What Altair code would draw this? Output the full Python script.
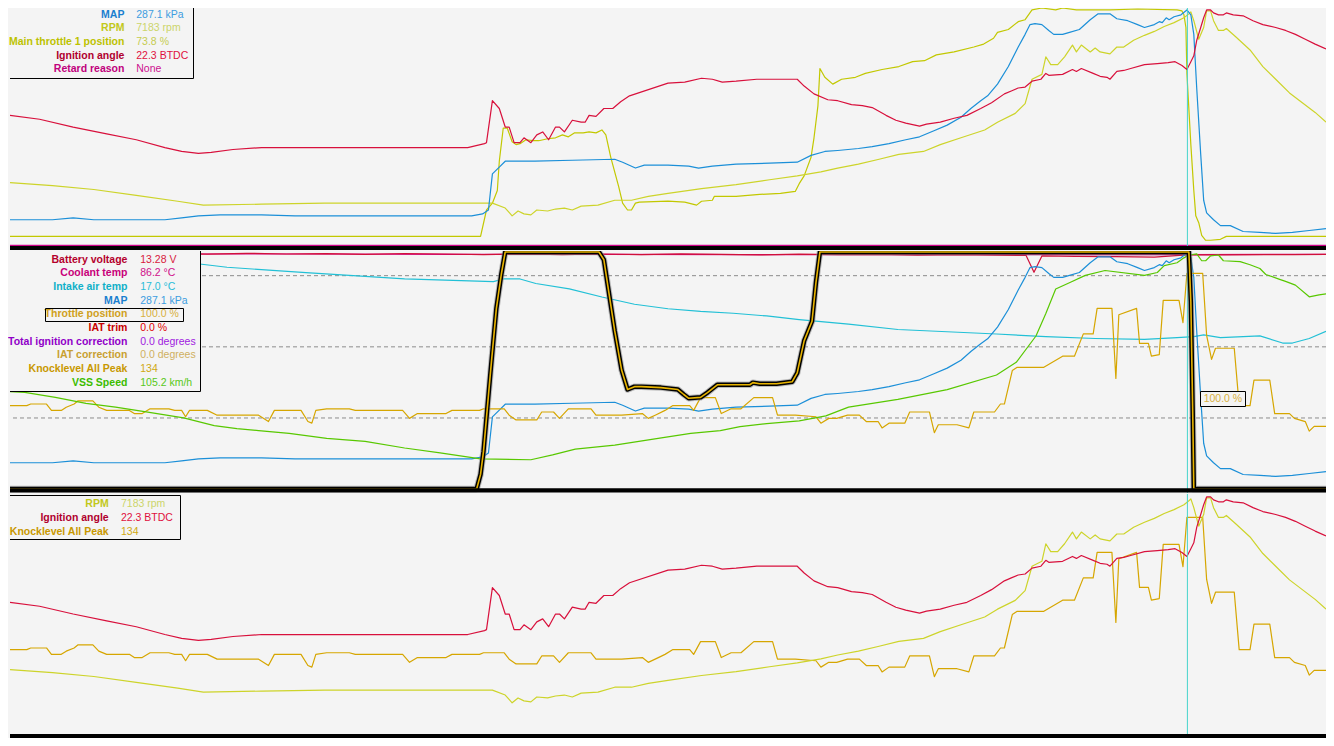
import sys
import altair as alt
import pandas as pd

# ---------------------------------------------------------------- data
# time in seconds, values in engineering units
rpm_t = [0, 0.86, 1.70, 2.56, 3.40, 3.92, 5.10, 6.38, 9.78, 10.04,
         10.18, 10.30, 10.42, 10.56, 10.68, 10.90, 11.06, 11.24, 11.40, 11.58,
         11.92, 12.26, 12.60, 12.94, 13.34, 14.02, 14.72, 15.40, 15.96, 16.44,
         16.78, 17.20, 17.62, 18.02, 18.52, 18.86, 19.28, 19.76, 20.02, 20.38,
         20.58, 20.72, 20.92, 21.00, 21.10, 21.24, 21.38, 21.54, 21.62, 21.72,
         21.90, 22.00, 22.10, 22.30, 22.44, 22.58, 22.78, 23.00, 23.20, 23.40,
         23.60, 23.80, 23.90, 23.94, 24.00, 24.10, 24.20, 24.26, 24.34, 24.40,
         24.50, 24.60, 24.66, 24.86, 25.14, 25.40, 25.66, 25.94, 26.20, 26.46, 26.68]
rpm = [2984, 2912, 2816, 2672, 2528, 2432, 2456, 2480, 2480, 2360,
       2168, 2288, 2216, 2192, 2312, 2288, 2336, 2360, 2312, 2408,
       2432, 2552, 2552, 2648, 2720, 2840, 2936, 3056, 3152, 3248,
       3344, 3440, 3560, 3680, 3752, 3920, 4088, 4280, 4472, 4688,
       4928, 5528, 5648, 6080, 5888, 5888, 6080, 6368, 6200, 6368,
       6200, 6296, 6200, 6152, 6320, 6320, 6488, 6608, 6704, 6824,
       6920, 7040, 7136, 7184, 6968, 6512, 6800, 7208, 7208, 6968,
       6728, 6728, 6776, 6560, 6248, 5840, 5528, 5192, 4952, 4712, 4472]

ign_t = [0, 0.60, 1.28, 1.96, 2.56, 3.14, 3.48, 3.82, 4.08, 4.52,
         5.10, 5.96, 7.66, 9.28, 9.62, 9.66, 9.78, 9.92, 10.04, 10.12,
         10.22, 10.34, 10.42, 10.56, 10.68, 10.80, 10.92, 11.06, 11.14, 11.24,
         11.40, 11.58, 11.66, 11.74, 11.88, 12.04, 12.22, 12.38, 12.56, 13.34,
         13.68, 14.02, 14.24, 14.44, 14.72, 15.14, 15.96, 16.10, 16.30, 16.58,
         16.78, 17.06, 17.28, 17.48, 17.76, 17.96, 18.16, 18.44, 18.58, 18.86,
         19.14, 19.40, 19.68, 19.90, 20.16, 20.30, 20.44, 20.58, 20.72, 20.90,
         21.00, 21.06, 21.34, 21.54, 21.62, 21.72, 21.96, 22.10, 22.24, 22.30,
         22.44, 22.58, 22.72, 23.00, 23.26, 23.48, 23.62, 23.76, 23.86, 23.94,
         24.00, 24.06, 24.14, 24.20, 24.26, 24.34, 24.40, 24.50, 24.60, 24.66,
         24.80, 25.00, 25.20, 25.40, 25.66, 25.86, 26.06, 26.26, 26.46, 26.68]
ign = [12.0, 11.2, 9.6, 8.2, 7.0, 5.4, 4.6, 4.2, 4.4, 5.0,
       5.4, 5.4, 5.4, 5.4, 6.2, 6.4, 15.0, 13.4, 9.6, 9.6,
       6.4, 6.4, 7.4, 6.4, 8.0, 8.6, 7.0, 9.6, 9.6, 8.6,
       11.0, 10.6, 10.6, 12.0, 11.8, 13.4, 13.4, 14.8, 16.0, 18.6,
       18.8, 19.6, 19.4, 18.8, 19.0, 19.4, 19.4, 18.0, 16.4, 15.2,
       15.0, 14.2, 14.0, 13.6, 12.0, 11.0, 10.4, 9.8, 10.2, 10.6,
       11.4, 12.0, 13.4, 14.6, 16.4, 17.0, 17.6, 17.8, 19.0, 19.4,
       20.6, 20.2, 20.4, 21.4, 21.0, 21.6, 20.6, 20.0, 19.8, 19.4,
       21.0, 21.2, 21.6, 22.4, 22.6, 22.8, 23.0, 22.2, 21.4, 23.0,
       24.2, 27.4, 30.0, 32.0, 33.6, 33.6, 33.0, 32.6, 32.6, 33.0,
       32.6, 32.4, 31.4, 30.6, 30.0, 29.4, 28.6, 27.6, 26.6, 25.6]

map_t = [0, 0.86, 1.28, 1.70, 3.14, 3.48, 3.82, 4.26, 5.10, 5.78,
         9.36, 9.58, 9.70, 9.78, 9.92, 10.04, 10.64, 11.40, 12.26, 12.42,
         12.68, 12.86, 13.34, 13.76, 13.96, 14.24, 14.72, 15.40, 15.96, 16.24,
         16.52, 16.78, 17.20, 17.48, 17.82, 18.16, 18.44, 18.72, 19.00, 19.28,
         19.48, 19.68, 19.82, 20.02, 20.24, 20.44, 20.58, 20.68, 20.78, 20.92,
         21.06, 21.16, 21.34, 21.48, 21.68, 21.90, 22.06, 22.30, 22.44, 22.66,
         22.86, 23.00, 23.20, 23.30, 23.36, 23.44, 23.50, 23.60, 23.74, 23.86,
         23.94, 24.00, 24.06, 24.14, 24.20, 24.26, 24.40, 24.54, 24.74, 25.00,
         25.34, 25.66, 26.00, 26.34, 26.68]
map_kpa = [33.6, 33.6, 36.0, 33.6, 33.6, 36.0, 38.4, 39.6, 39.6, 38.4,
           38.4, 40.8, 45.6, 90.0, 98.4, 105.6, 105.6, 106.8, 108.0, 104.4,
           97.2, 100.8, 100.8, 99.6, 97.2, 99.6, 102.0, 103.2, 104.4, 112.8,
           117.6, 118.8, 121.2, 123.6, 127.2, 132.0, 135.6, 142.8, 150.0, 159.6,
           170.4, 180.0, 186.0, 200.4, 222.0, 246.0, 261.6, 273.6, 274.8, 273.6,
           266.4, 261.6, 261.6, 264.0, 267.6, 279.6, 286.8, 286.8, 280.8, 278.4,
           273.6, 270.0, 273.6, 277.2, 276.0, 282.0, 279.6, 283.2, 285.6, 291.6,
           285.6, 261.6, 194.4, 114.0, 57.6, 42.0, 33.6, 26.4, 26.4, 19.2,
           18.0, 16.8, 18.0, 20.4, 22.8]

mt1_t = [0, 9.54, 9.66, 9.78, 9.88, 9.92, 10.00, 10.08, 10.18, 10.26,
         10.34, 10.46, 10.60, 10.72, 10.90, 11.06, 11.20, 11.32, 11.44, 11.62,
         11.74, 11.88, 12.00, 12.08, 12.18, 12.34, 12.42, 12.52, 12.60, 12.68,
         12.76, 13.34, 13.68, 13.92, 14.02, 14.24, 14.28, 14.72, 15.20, 15.62,
         15.92, 16.00, 16.10, 16.24, 16.30, 16.38, 16.42, 16.52, 16.68, 16.86,
         17.14, 17.34, 17.68, 18.02, 18.30, 18.54, 18.78, 19.14, 19.54, 19.74,
         19.94, 20.02, 20.24, 20.44, 20.58, 20.72, 20.92, 21.20, 21.34, 21.62,
         22.30, 22.86, 23.66, 23.76, 23.80, 23.84, 23.86, 23.94, 24.00, 24.04,
         24.10, 24.16, 24.24, 24.34, 24.54, 24.66, 26.68]
mt1 = [4.4, 4.4, 15.2, 18.0, 23.2, 35.2, 48.8, 48.8, 43.2, 42.0,
       42.4, 44.0, 43.6, 43.6, 44.4, 44.8, 46.0, 45.2, 46.8, 46.8,
       47.2, 46.8, 48.0, 46.0, 36.8, 24.8, 18.0, 15.2, 15.2, 18.0,
       18.4, 18.8, 18.4, 17.2, 18.8, 19.2, 20.8, 20.8, 21.6, 22.0,
       22.8, 26.0, 29.2, 36.8, 44.8, 58.0, 73.2, 69.6, 66.8, 68.8,
       69.6, 71.2, 72.8, 74.0, 76.0, 76.4, 78.8, 80.0, 82.0, 83.2,
       85.6, 88.0, 89.2, 92.4, 93.2, 97.2, 98.0, 97.2, 98.0, 97.2,
       97.2, 97.6, 97.2, 96.8, 95.2, 90.0, 71.2, 42.0, 23.2, 12.8,
       10.0, 4.8, 2.8, 2.8, 3.2, 4.4, 4.4]

retard_t = [0, 26.68]
retard = [0, 0]

batt_t = [0, 0.8, 1.6, 2.4, 3.2, 4.0, 4.8, 5.6, 6.4, 7.2,
          8.0, 8.8, 9.6, 10.4, 11.2, 12.0, 12.8, 13.6, 14.4, 15.2,
          16.0, 16.8, 17.6, 18.4, 19.2, 20.0, 20.6, 20.76, 20.92, 21.6,
          22.4, 23.2, 23.86, 24.6, 25.4, 26.0, 26.68]
batt = [13.36, 13.33, 13.37, 13.34, 13.36, 13.32, 13.37, 13.33, 13.35, 13.31,
        13.36, 13.33, 13.30, 13.34, 13.29, 13.33, 13.30, 13.34, 13.31, 13.28,
        13.32, 13.29, 13.31, 13.27, 13.30, 13.26, 13.25, 12.30, 13.22, 13.20,
        13.18, 13.15, 13.28, 13.28, 13.30, 13.29, 13.31]

clt_t = [0, 3.0, 6.0, 9.0, 12.0, 15.0, 18.0, 21.0, 23.86, 26.68]
clt = [86.5, 86.4, 86.4, 86.3, 86.3, 86.2, 86.2, 86.2, 86.2, 86.3]

iat_t = [0, 2.40, 4.40, 6.00, 8.00, 9.80, 10.00, 10.34, 10.66, 11.34,
         12.00, 12.66, 13.34, 14.00, 14.66, 15.34, 16.00, 17.00, 18.00, 20.00,
         21.00, 22.00, 23.00, 23.66, 24.00, 24.20, 24.54, 25.00, 25.34, 25.80,
         26.00, 26.34, 26.68]
iat = [26.3, 26.0, 24.7, 24.1, 23.4, 23.1, 23.4, 23.4, 22.9, 22.3,
       21.4, 20.6, 20.1, 19.8, 19.6, 19.3, 18.9, 18.4, 17.8, 17.3,
       17.0, 16.8, 16.7, 16.9, 17.0, 17.2, 16.9, 17.0, 17.1, 16.3,
       16.3, 16.8, 17.6]

tps_t = [0, 9.46, 9.54, 9.60, 9.74, 9.86, 9.96, 10.04, 11.94, 12.04,
         12.14, 12.26, 12.40, 12.52, 12.66, 12.80, 13.20, 13.54, 13.66, 13.76,
         14.00, 14.14, 14.34, 15.00, 15.06, 15.20, 15.54, 15.86, 15.96, 16.10,
         16.26, 16.34, 16.42, 23.90, 23.94, 23.98, 24.00, 26.68]
tps = [0, 0, 6.2, 16.0, 49.0, 76.1, 90.5, 100, 100, 96.7,
       83.1, 66.7, 50.2, 42.0, 43.2, 43.2, 42.8, 42.0, 39.9, 38.3,
       38.7, 40.7, 44.0, 44.0, 44.9, 44.4, 44.4, 45.3, 49.0, 62.5,
       70.8, 87.2, 100, 100, 79.0, 29.6, 0, 0]

knock_t = [0, 0.34, 0.42, 0.74, 0.84, 1.04, 1.14, 1.30, 1.38, 1.68,
           1.80, 1.96, 2.42, 2.52, 2.68, 2.84, 3.22, 3.34, 3.48, 3.56,
           3.64, 4.00, 4.20, 5.04, 5.24, 5.36, 5.90, 6.04, 6.12, 6.20,
           6.42, 6.88, 7.00, 7.96, 8.10, 8.26, 8.84, 8.96, 9.52, 9.60,
           10.02, 10.12, 10.26, 10.68, 10.78, 11.02, 11.14, 11.32, 11.78, 11.88,
           12.40, 12.82, 12.94, 13.08, 13.28, 13.44, 13.78, 13.86, 14.00, 14.30,
           14.42, 14.62, 14.82, 15.08, 15.46, 15.56, 15.92, 16.34, 16.44, 16.60,
           16.76, 16.98, 17.22, 17.36, 17.60, 17.68, 17.82, 18.14, 18.24, 18.64,
           18.74, 18.82, 19.20, 19.44, 19.54, 19.96, 20.08, 20.16, 20.32, 20.42,
           20.88, 20.96, 21.34, 21.58, 21.76, 21.96, 22.04, 22.34, 22.42, 22.48,
           22.84, 22.90, 23.08, 23.14, 23.30, 23.38, 23.70, 23.78, 23.86, 24.18,
           24.26, 24.36, 24.44, 24.82, 24.92, 25.14, 25.22, 25.54, 25.64, 25.94,
           26.04, 26.26, 26.34, 26.44, 26.68]
knock = [53, 53, 54, 54, 50, 50, 52, 54, 56, 56,
         52, 50, 50, 48, 48, 51, 51, 50, 50, 46,
         50, 50, 47, 47, 43, 50, 50, 43, 42, 50,
         51, 51, 50, 50, 45, 48, 48, 50, 50, 51,
         51, 47, 44, 44, 49, 49, 45, 51, 51, 47,
         47, 48, 45, 47, 50, 53, 53, 50, 58, 58,
         48, 51, 51, 58, 58, 47, 47, 46, 42, 45,
         45, 47, 47, 43, 43, 39, 42, 42, 49, 49,
         36, 41, 41, 39, 49, 49, 54, 54, 75, 77,
         77, 77, 84, 84, 98, 98, 114, 114, 70, 110,
         114, 92, 92, 84, 85, 119, 119, 105, 136, 136,
         97, 82, 89, 89, 53, 53, 69, 69, 48, 48,
         45, 43, 37, 40, 40]

vss_t = [0, 0.30, 0.92, 1.54, 2.14, 2.76, 3.52, 4.14, 4.60, 5.04,
         5.66, 6.42, 7.20, 8.00, 8.72, 9.54, 10.56, 11.00, 11.46, 12.26,
         13.14, 13.80, 14.40, 14.80, 15.34, 16.00, 16.54, 17.00, 18.00, 19.00,
         20.00, 20.40, 20.80, 21.00, 21.20, 21.50, 21.80, 22.20, 23.00, 23.26,
         23.40, 23.66, 23.80, 23.90, 24.06, 24.16, 24.24, 24.34, 24.50, 24.60,
         24.94, 25.14, 25.34, 25.46, 25.74, 25.86, 26.06, 26.34, 26.54, 26.68]
vss = [44.5, 44.1, 41.9, 39.2, 37.5, 35.3, 32.6, 29.1, 27.8, 26.9,
       25.6, 23.4, 22.0, 19.0, 16.8, 14.1, 13.7, 15.9, 18.5, 20.3,
       23.4, 25.6, 26.9, 28.7, 30.0, 31.3, 33.5, 37.5, 41.0, 45.4,
       52.0, 57.7, 69.6, 79.8, 90.8, 93.9, 97.0, 99.2, 97.0, 98.3,
       101.4, 102.7, 104.9, 106.2, 106.7, 103.6, 103.6, 105.8, 106.2, 103.6,
       103.2, 101.8, 100.1, 97.4, 95.2, 94.3, 92.6, 87.3, 88.2, 88.6]

tps_grid = [30, 60, 90]          # dashed reference levels (throttle %)
cursor_t = [23.87]
cursor_tip = ["100.0 %"]

# legend contents
p1_labels = ["MAP", "RPM", "Main throttle 1 position", "Ignition angle", "Retard reason"]
p1_values = ["287.1 kPa", "7183 rpm", "73.8 %", "22.3 BTDC", "None"]
p2_labels = ["Battery voltage", "Coolant temp", "Intake air temp", "MAP", "Throttle position",
             "IAT trim", "Total ignition correction", "IAT correction", "Knocklevel All Peak", "VSS Speed"]
p2_values = ["13.28 V", "86.2 °C", "17.0 °C", "287.1 kPa", "100.0 %",
             "0.0 %", "0.0 degrees", "0.0 degrees", "134", "105.2 km/h"]
p3_labels = ["RPM", "Ignition angle", "Knocklevel All Peak"]
p3_values = ["7183 rpm", "22.3 BTDC", "134"]

# ---------------------------------------------------------------- styles
BG = "#f4f4f4"
FONT = "Liberation Sans"
FS = 10.5
LINE = {"map": "#1b8fd8", "rpm": "#cdd42a", "mt1": "#c2c800", "ign": "#d8103c",
        "retard": "#cc0088", "batt": "#d0103a", "clt": "#d4007e", "iat": "#22c0d6",
        "tps": "#e8b400", "knock": "#d6a600", "vss": "#58c800"}
LAB = {"MAP": ("#1a7fcf", "#3d9de0"), "RPM": ("#c2c81a", "#ccd46a"),
       "Main throttle 1 position": ("#bcc200", "#c6cc50"), "Ignition angle": ("#b0002e", "#e01040"),
       "Retard reason": ("#c0007c", "#cc1090"), "Battery voltage": ("#b4002c", "#d8203c"),
       "Coolant temp": ("#c8007a", "#d0108a"), "Intake air temp": ("#10b0c8", "#28bcd8"),
       "Throttle position": ("#d0a020", "#d8b040"), "IAT trim": ("#c80000", "#e00000"),
       "Total ignition correction": ("#9000c8", "#a020e0"), "IAT correction": ("#c8a030", "#d0b060"),
       "Knocklevel All Peak": ("#c89800", "#d0a810"), "VSS Speed": ("#3cbc00", "#58c818")}

DOM = {"rpm": [1400, 7280], "map": [0, 294], "mt1": [0, 98], "ign": [-15, 34],
       "retard": [-0.07, 10], "batt": [0, 13.5], "clt": [0, 87.5], "iat": [0, 26.5],
       "tps": [-0.41, 100.41], "knock": [0, 150], "vss": [0, 108]}

# ---------------------------------------------------------------- layout
REF_W, REF_H = 1334.0, 746.0
W = 1316
TOTAL_H = 728
SXR = W / REF_W
SYR = TOTAL_H / REF_H
T_MAX = 26.68
P_TOP = [0, 248, 496]
P_BOT = [248, 496, 746]
DATA = [(0, 245), (248, 493), (497, 742)]
ROW = 14

xs = alt.Scale(domain=[0, T_MAX], nice=False, zero=False)
X = alt.X("t:Q", scale=xs, axis=None)
ONE = pd.DataFrame({"k": [0]})


def yr(p, yref):
    return (yref - P_TOP[p]) * SYR


def frame(t, v):
    n = min(len(t), len(v))
    if len(t) != len(v):
        print("length mismatch", len(t), len(v), file=sys.stderr)
    return pd.DataFrame({"t": list(t)[:n], "v": list(v)[:n]})


def yscale(p, key):
    d0, d1 = DATA[p]
    return alt.Scale(domain=DOM[key], range=[yr(p, d1), yr(p, d0)], nice=False, zero=False)


def series(p, t, v, key, width=1.2, color=None, **kw):
    return alt.Chart(frame(t, v)).mark_line(
        color=color or LINE[key], strokeWidth=width, clip=True, strokeJoin="round", **kw
    ).encode(x=X, y=alt.Y("v:Q", scale=yscale(p, key), axis=None))


def band(p, y0, y1):
    a, b = yr(p, y0), yr(p, y1)
    return alt.Chart(ONE).mark_rule(color="black", strokeWidth=b - a, clip=True).encode(
        x=alt.value(0), x2=alt.value(W), y=alt.value((a + b) / 2))


def cursor_layer():
    return alt.Chart(pd.DataFrame({"t": cursor_t})).mark_rule(
        color="#46d4cc", strokeWidth=1, clip=True).encode(x=X)


def box(p, x0, y0, x1, y1, fill=BG):
    kw = dict(stroke="black", strokeWidth=1, clip=True)
    if fill is None:
        kw["fillOpacity"] = 0
        kw["fill"] = BG
    else:
        kw["fill"] = fill
    return alt.Chart(ONE).mark_rect(**kw).encode(
        x=alt.value(round(x0 * SXR) + 0.5), x2=alt.value(round(x1 * SXR) + 0.5),
        y=alt.value(round(yr(p, y0)) + 0.5), y2=alt.value(round(yr(p, y1)) + 0.5))


def legend(p, labels, values, row0, label_x, value_x, bx):
    df = pd.DataFrame({"row": list(range(len(labels))), "label": labels, "value": values,
                       "lc": [LAB[l][0] for l in labels], "vc": [LAB[l][1] for l in labels]})
    Y = alt.Y("row:Q", axis=None, scale=alt.Scale(domain=[0, 1], range=[yr(p, row0), yr(p, row0 + ROW)],
                                                  nice=False, zero=False))
    layers = [box(p, *bx)]
    layers.append(alt.Chart(df).mark_text(align="right", baseline="middle", font=FONT, fontSize=FS,
                                          fontWeight="bold").encode(
        x=alt.value(label_x * SXR), y=Y, text="label:N", color=alt.Color("lc:N", scale=None)))
    layers.append(alt.Chart(df).mark_text(align="left", baseline="middle", font=FONT, fontSize=FS).encode(
        x=alt.value(value_x * SXR), y=Y, text="value:N", color=alt.Color("vc:N", scale=None)))
    return layers


def panel(layers, p):
    return alt.layer(*layers).resolve_scale(y="independent").properties(
        width=W, height=(P_BOT[p] - P_TOP[p]) * SYR)


# ---------------------------------------------------------------- panel 1
p1 = panel([
    series(0, retard_t, retard, "retard"),
    series(0, mt1_t, mt1, "mt1"),
    series(0, rpm_t, rpm, "rpm"),
    series(0, map_t, map_kpa, "map"),
    series(0, ign_t, ign, "ign"),
    cursor_layer(),
    band(0, 244, 248),
] + legend(0, p1_labels, p1_values, 7, 116, 128, (-1, -1, 186, 72)), 0)

# ---------------------------------------------------------------- panel 2
grid = alt.Chart(pd.DataFrame({"v": tps_grid})).mark_rule(
    color="#8c8c8c", strokeWidth=1, strokeDash=[4, 3], clip=True).encode(
    y=alt.Y("v:Q", scale=yscale(1, "tps"), axis=None))
tip_df = pd.DataFrame({"t": cursor_t, "txt": cursor_tip})
tip_text = alt.Chart(tip_df).mark_text(align="left", baseline="middle", font=FONT, fontSize=FS,
                                       color="#d8b040", dx=16.5 * SXR).encode(
    x=X, y=alt.value(yr(1, 399.5)), text="txt:N")

p2 = panel([
    grid,
    series(1, clt_t, clt, "clt"),
    series(1, batt_t, batt, "batt"),
    series(1, iat_t, iat, "iat"),
    series(1, map_t, map_kpa, "map"),
    series(1, knock_t, knock, "knock"),
    series(1, vss_t, vss, "vss"),
    cursor_layer(),
    series(1, tps_t, tps, "tps", width=6.5, color="#8a8a8a", opacity=0.55),
    series(1, tps_t, tps, "tps", width=4.5, color="#000000"),
    series(1, tps_t, tps, "tps", width=1.6),
    band(1, 491, 495.5),
    box(1, 1206, 391, 1252, 407),
    tip_text,
] + legend(1, p2_labels, p2_values, 257, 119, 132, (-1, 247, 193, 391))
  + [box(1, 35, 306, 175, 320, fill=None)], 1)

# ---------------------------------------------------------------- panel 3
p3 = panel([
    series(2, knock_t, knock, "knock"),
    series(2, rpm_t, rpm, "rpm"),
    series(2, ign_t, ign, "ign"),
    cursor_layer(),
    band(2, 742, 746),
] + legend(2, p3_labels, p3_values, 506.7, 100, 112.5, (-1, 497, 172, 542)), 2)

chart = alt.vconcat(p1, p2, p3, spacing=0, bounds="flush").properties(
    padding=0, background=BG).configure_view(stroke=None)

chart.save("out.html", embed_options={"renderer": "svg", "actions": False})
